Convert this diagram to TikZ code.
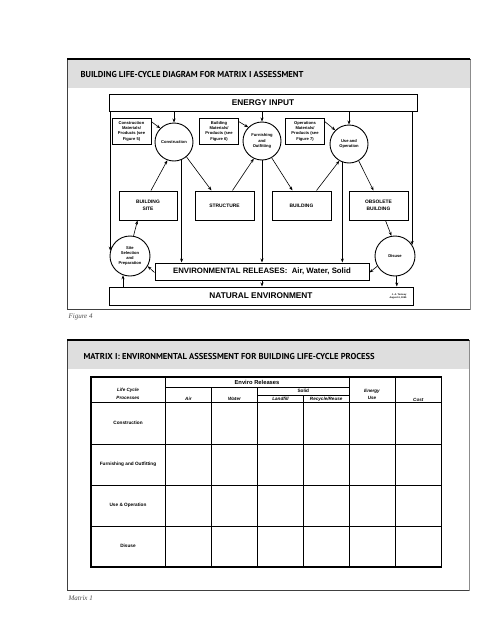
\documentclass[tikz,border=0pt]{standalone}
\usepackage{fontspec}
\setmainfont{Liberation Serif}
\setsansfont{Liberation Sans}
\newfontfamily\headfont{PT Sans}
\usetikzlibrary{arrows.meta,positioning}

\begin{document}
\begin{tikzpicture}[x=1pt,y=-1pt,
        panel/.style={draw=black!75,line width=0.8pt},
        headbar/.style={fill=black!13},
        headline/.style={anchor=west,font=\headfont\bfseries\fontsize{8.6}{10}\selectfont},
        caption/.style={anchor=west,font=\itshape\fontsize{7}{8}\selectfont,text=black!70},
        bigbox/.style={draw,line width=1pt,inner sep=0pt,font=\sffamily\bfseries\fontsize{8.3}{9}\selectfont},
        stagebox/.style={draw,line width=1pt,inner sep=0pt,minimum width=59pt,minimum height=29pt,align=center,font=\sffamily\bfseries\fontsize{4.9}{6.4}\selectfont},
        matbox/.style={draw,line width=0.9pt,inner sep=0pt,minimum width=39pt,minimum height=26pt,align=center,font=\sffamily\bfseries\fontsize{4.1}{5.3}\selectfont},
        stage/.style={draw,circle,line width=0.9pt,inner sep=0pt,minimum size=38pt,align=center,font=\sffamily\bfseries\fontsize{4.1}{5.2}\selectfont},
        flow/.style={-{Stealth[length=4pt,width=3pt]},line width=0.6pt},
        cell/.style={align=center,font=\sffamily\bfseries\fontsize{4.7}{5.6}\selectfont},
        colhead/.style={align=center,font=\sffamily\bfseries\itshape\fontsize{4.6}{7.5}\selectfont}]
    \useasboundingbox[fill=white] (0,0) rectangle (495,640);

    % upper panel
    \fill[headbar] (67,60) rectangle (470,88);
    \draw[panel] (67,59) rectangle (470,309);
    \draw[black!45,line width=0.8pt] (470.8,60) -- (470.8,309.5);
    \draw[line width=2.2pt] (67,59) -- (470,59);
    \node[headline] (title1) at (77,74) {BUILDING LIFE-CYCLE DIAGRAM FOR MATRIX I ASSESSMENT};
    \node[caption] (fig4) at (65,317) {Figure 4};

    \node[bigbox,minimum width=308pt,minimum height=17pt] (energy) at (263,102.5) {ENERGY INPUT};
    \node[bigbox,minimum width=304pt,minimum height=18pt] (natenv) at (261,296) {NATURAL ENVIRONMENT};
    \node[bigbox,minimum width=214pt,minimum height=17pt,font=\sffamily\bfseries\fontsize{7.8}{9}\selectfont] (envrel) at (262,271.5) {ENVIRONMENTAL RELEASES:\ \ Air, Water, Solid};
    \node[align=right,font=\sffamily\bfseries\fontsize{2.4}{3}\selectfont] (sign) at (398,296) {J. A. Tomsey\\August 4, 1995};

    \node[stage] (cons) at (174,142) {Construction};
    \node[stage] (furn) at (262,141) {Furnishing\\and\\Outfitting};
    \node[stage] (use) at (349,144) {Use and\\Operation};
    \node[stage,minimum size=40pt] (site) at (130,256) {Site\\Selection\\and\\Preparation};
    \node[stage,minimum size=40pt] (disuse) at (395,256) {Disuse};

    \node[matbox] (cmat) at (131.5,131) {Construction\\Materials/\\Products (see\\Figure 5)};
    \node[matbox] (bmat) at (219,131) {Building\\Materials/\\Products (see\\Figure 6)};
    \node[matbox] (omat) at (305,131) {Operations\\Materials/\\Products (see\\Figure 7)};

    \node[stagebox,minimum width=58pt] (bsite) at (148,205.5) {BUILDING\\SITE};
    \node[stagebox] (struct) at (224.5,205.5) {STRUCTURE};
    \node[stagebox] (bldg) at (301.5,205.5) {BUILDING};
    \node[stagebox] (obsolete) at (378.5,205.5) {OBSOLETE\\BUILDING};

    \draw[flow] (energy.south -| cons.north) -- (cons.north);
    \draw[flow] (energy.south -| furn.north) -- (furn.north);
    \draw[flow] (energy.south -| use.north) -- (use.north);
    \draw[flow] (site.165 |- energy.south) -- (site.165);
    \draw[flow] (disuse.33 |- energy.south) -- (disuse.33);

    \draw[flow] (cmat.25) -- (cons.135);
    \draw[flow] (bmat.25) -- (furn.135);
    \draw[flow] (omat.25) -- (use.135);

    \draw[flow] ([xshift=3pt]bsite.north) -- (cons.-110);
    \draw[flow] (cons.-50) -- ([xshift=17pt]struct.north west);
    \draw[flow] (cons.-67) -- (cons.-67 |- envrel.north);
    \draw[flow] ([xshift=38pt]struct.north west) -- (furn.-115);
    \draw[flow] (furn.-60) -- ([xshift=21pt]bldg.north west);
    \draw[flow] (furn.south) -- (furn.south |- envrel.north);
    \draw[flow] ([xshift=45pt]bldg.north west) -- (use.-120);
    \draw[flow] (use.-60) -- ([xshift=25pt]obsolete.north west);
    \draw[flow] (use.-110) -- (use.-110 |- envrel.north);
    \draw[flow] ([xshift=37pt]obsolete.south west) -- (disuse.100);
    \draw[flow] (site.80) -- ([xshift=19pt]bsite.south west);
    \draw[flow] ([yshift=-1pt]envrel.west) -- (site.-30);
    \draw[flow] (disuse.-150) -- ([yshift=-1pt]envrel.east);
    \draw[flow] (site.-110 |- natenv.north) -- (site.-110);
    \draw[flow] (disuse.-85) -- (disuse.-85 |- natenv.north);
    \draw[flow] (envrel.south) -- (envrel.south |- natenv.north);

    % lower panel
    \fill[headbar] (67,341) rectangle (469,369);
    \draw[panel] (67,340) rectangle (469,590);
    \draw[black!45,line width=0.8pt] (469.8,341) -- (469.8,590.5);
    \draw[line width=2.2pt] (67,340) -- (469,340);
    \node[headline] (title2) at (80,356) {MATRIX I: ENVIRONMENTAL ASSESSMENT FOR BUILDING LIFE-CYCLE PROCESS};
    \node[caption] (mat1) at (65,598) {Matrix 1};

    \draw[line width=1.1pt] (91,377) rectangle (441.5,567);
    \foreach \y in {402.7,444,485,526}
        \draw[line width=0.9pt] (91,\y) -- (441.5,\y);
    \foreach \x in {165,349,395}
        \draw[line width=0.9pt] (\x,377) -- (\x,567);
    \foreach \x in {211.5,257.5}
        \draw[line width=0.9pt] (\x,387.7) -- (\x,567);
    \draw[line width=0.9pt] (303.5,395) -- (303.5,567);
    \draw[line width=0.9pt] (165,387.7) -- (349,387.7);
    \draw[line width=0.9pt] (257.5,395) -- (349,395);

    \node[colhead] (lifecycle) at (128,394) {Life Cycle\\Processes};
    \node[cell,font=\sffamily\bfseries\fontsize{5.8}{6.5}\selectfont] (enviro) at (257,382.3) {Enviro Releases};
    \node[colhead] (air) at (188.4,398.8) {Air};
    \node[colhead] (water) at (234.5,398.8) {Water};
    \node[cell] (solid) at (303.3,391.3) {Solid};
    \node[colhead] (landfill) at (280.5,399) {Landfill};
    \node[colhead] (recycle) at (326.2,399) {Recycle/Reuse};
    \node[colhead] (energyuse) at (372,394.5) {Energy\\Use};
    \node[colhead] (cost) at (418.3,399.5) {Cost};

    \node[cell] (rcons) at (128,422.5) {Construction};
    \node[cell] (rfurn) at (128,464) {Furnishing and Outfitting};
    \node[cell] (ruse) at (128,505) {Use \& Operation};
    \node[cell] (rdisuse) at (128,545.5) {Disuse};
\end{tikzpicture}
\end{document}
